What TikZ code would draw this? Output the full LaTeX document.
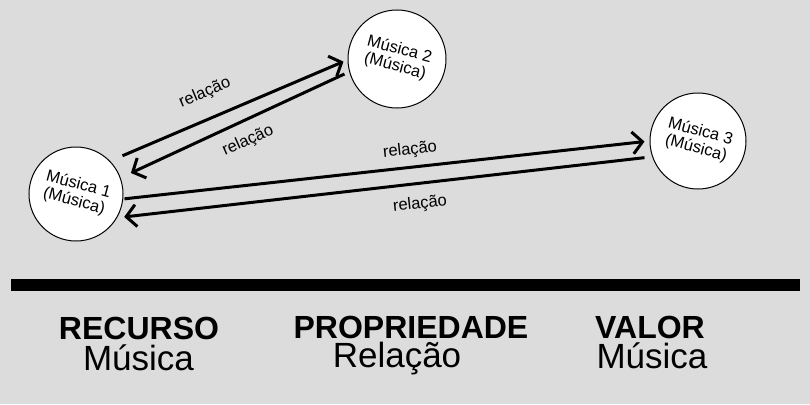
\documentclass[tikz,border=0pt]{standalone}
\usepackage{fontspec}
\setmainfont{Liberation Sans}
\usetikzlibrary{arrows.meta}
\definecolor{bg}{RGB}{220,220,220}
\tikzset{
  res/.style={circle, draw=black, line width=1pt, fill=white, inner sep=0pt, font=\fontsize{16.5}{17}\selectfont},
  rel/.style={line width=3pt, -{Straight Barb[length=10pt,width=22pt]}},
  lab/.style={inner sep=0pt, font=\fontsize{16.5}{18}\selectfont},
  headbold/.style={inner sep=0pt, anchor=base, font=\fontsize{32}{36}\selectfont\bfseries},
  headreg/.style={inner sep=0pt, anchor=base, font=\fontsize{35}{40}\selectfont}
}
\newcommand{\circtext}[1]{\rotatebox{-15}{\begin{tabular}{@{}c@{}}#1\end{tabular}}}
\begin{document}
\begin{tikzpicture}[x=1pt,y=-1pt]
\fill[bg] (0,0) rectangle (810,404);
\useasboundingbox (0,0) rectangle (810,404);
% resources
\node[res, minimum size=94pt] (m1) at (76,194) {\circtext{Música 1\\(Música)}};
\node[res, minimum size=98pt] (m2) at (397,59) {\circtext{Música 2\\(Música)}};
\node[res, minimum size=96pt] (m3) at (698,141) {\circtext{Música 3\\(Música)}};
% relations
\draw[rel, shorten <=13.4pt, shorten >=4.4pt] (m1.44) -- (m2.181.5);
\draw[rel, shorten <=5.2pt, shorten >=11.3pt] (m2.195) -- (m1.20.5);
\draw[rel, shorten <=1.2pt, shorten >=5pt] (m1.-6.6) -- (m3.180.2);
\draw[rel, shorten <=7.7pt, shorten >=7.1pt] (m3.199.2) -- (m1.-30.5);
% labels
\node[lab, rotate=23] (l1) at (205,93) {relação};
\node[lab, rotate=24] (l2) at (248,141) {relação};
\node[lab, rotate=6] (l3) at (410,150) {relação};
\node[lab, rotate=6] (l4) at (420,204) {relação};
% bar
\fill[black] (11,279) rectangle (800,291);
% legend
\node[headbold] (h1) at (139,339) {RECURSO};
\node[headreg] (v1) at (138.5,370) {Música};
\node[headbold] (h2) at (411,338) {PROPRIEDADE};
\node[headreg] (v2) at (397,367) {Relação};
\node[headbold] (h3) at (650,338) {VALOR};
\node[headreg] (v3) at (652,368) {Música};
\end{tikzpicture}
\end{document}
